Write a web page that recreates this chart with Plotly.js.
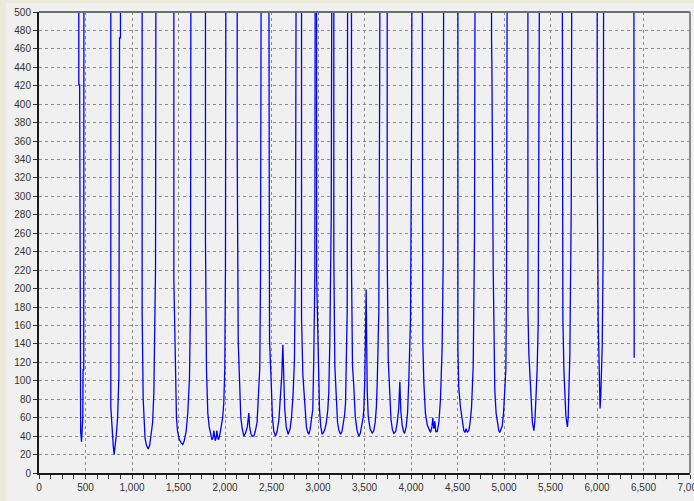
<!DOCTYPE html>
<html>
<head>
<meta charset="utf-8">
<script src="https://cdn.plot.ly/plotly-3.0.1.min.js"></script>
<style>html,body{margin:0;padding:0;background:#f0f0f0;}#chart{width:694px;height:501px;}</style>
</head>
<body>
<div id="chart"></div>
<script>
// Sampled trace (values above 500 are off-scale, drawn clipped at the top)
const sampleX = [
  428,428,437,440,448,457,463,471,474,481,483,
  772,772,787,798,808,816,830,841,846,859,866,876,876,
  1109,1109,1120,1128,1140,1155,1174,1190,1205,1222,1235,1253,1258,
  1450,1450,1468,1478,1490,1510,1528,1545,1562,1582,1600,1618,1629,1634,
  1790,1790,1801,1815,1830,1845,1860,1870,1880,1888,1895,1905,1912,1920,1930,1945,1960,1975,1987,1998,2005,2010,
  2131,2131,2142,2156,2170,2185,2203,2220,2240,2256,2265,2280,2295,2310,2325,2345,2364,2374,2382,2390,
  2471,2471,2479,2497,2510,2525,2543,2560,2580,2597,2610,2622,2630,2642,2658,2679,2700,2715,2732,2747,2758,2766,
  2823,2823,2837,2858,2875,2890,2901,2915,2930,2944,2955,2966,2970,
  2985,2985,3002,3016,3030,3045,3060,3075,3090,3105,3116,3127,3142,3150,
  3170,3170,3181,3196,3210,3225,3242,3258,3272,3286,3296,3307,3314,3319,
  3360,3360,3371,3385,3400,3420,3439,3455,3470,3485,3493,3503,3518,
  3524,3529,3540,3560,3583,3600,3615,3628,3637,3654,3662,3668,
  3744,3744,3755,3769,3785,3800,3815,3835,3852,3868,3880,3890,3905,3920,3931,3948,3963,3977,3995,4006,4012,
  4120,4120,4127,4138,4155,4175,4195,4210,4225,4235,4245,4256,4266,4282,4300,4317,4335,4346,4352,
  4504,4504,4514,4532,4550,4568,4580,4593,4605,4622,4636,4651,4669,4683,4690,
  4866,4866,4870,4884,4891,4901,4915,4930,4944,4955,4966,4981,4995,5009,5020,5027,5035,
  5257,5257,5267,5278,5290,5305,5321,5333,5346,5357,5368,5378,5383,
  5626,5626,5633,5644,5654,5665,5675,5682,5690,5697,5708,5723,5730,
  6002,6002,6013,6020,6027,6033,6040,6045,6056,6067,6072,
  6396,6396,6400
];
const sampleY = [
  600,421,421,65,45,34,44,60,112,112,600,
  600,72,43,30,20,26,40,54,62,105,472,472,600,
  600,175,81,55,38,30,26,30,40,55,87,222,600,
  600,210,101,60,45,36,33,31,35,45,65,103,183,600,
  600,251,112,65,50,42,36,38,46,40,35,38,46,40,36,42,50,60,76,114,224,600,
  600,356,143,87,60,48,40,43,50,65,50,42,40,40,45,55,94,114,212,600,
  600,421,143,98,60,45,40,45,58,85,105,139,100,70,50,42,48,60,85,123,242,600,
  600,168,107,69,50,44,42,47,58,69,127,213,600,
  600,213,127,69,50,42,44,48,55,68,87,141,277,600,
  600,235,116,76,55,46,42,45,52,63,76,121,175,600,
  600,224,116,94,62,46,40,43,50,60,69,101,199,
  120,90,62,48,43,46,55,72,98,175,390,600,
  600,240,123,83,58,47,43,45,55,70,99,68,52,45,43,50,65,102,168,374,600,
  600,235,143,98,65,52,46,44,50,60,48,56,45,45,55,80,137,228,600,
  600,134,92,71,55,46,44,48,44,46,55,71,116,257,600,
  600,472,439,221,121,90,65,52,46,44,47,51,65,92,112,204,600,
  600,177,130,105,75,55,46,58,87,114,163,385,600,
  600,443,168,112,78,62,55,50,60,85,128,289,600,
  600,338,163,112,76,70,82,98,137,248,600,
  600,146,125
];
const xTickVals = [0,500,1000,1500,2000,2500,3000,3500,4000,4500,5000,5500,6000,6500,7000];
const xTickText = ['0','500','1,000','1,500','2,000','2,500','3,000','3,500','4,000','4,500','5,000','5,500','6,000','6,500','7,000'];
const yTickVals = [0,20,40,60,80,100,120,140,160,180,200,220,240,260,280,300,320,340,360,380,400,420,440,460,480,500];

const trace = {
  x: sampleX, y: sampleY, type: 'scatter', mode: 'lines',
  line: {color: 'rgb(0,0,255)', width: 1.3},
  hoverinfo: 'skip'
};

const W = 694, H = 501, L = 39, R = 4, T = 12, B = 28;
const pw = W - L - R, ph = H - T - B;

const layout = {
  width: W, height: H,
  margin: {l: L, r: R, t: T, b: B, pad: 0},
  paper_bgcolor: '#f0f0f0', plot_bgcolor: '#f0f0f0',
  showlegend: false,
  font: {family: 'Liberation Sans, Arial, sans-serif', size: 10, color: '#333'},
  xaxis: {
    range: [0, 7000], tickmode: 'array', tickvals: xTickVals, ticktext: xTickText,
    ticks: 'outside', ticklen: 4, tickwidth: 1, tickcolor: '#333',
    minor: {dtick: 125, ticks: 'outside', ticklen: 4, tickcolor: '#333', showgrid: false},
    showgrid: true, gridcolor: '#8c8c8c', gridwidth: 1, griddash: '3px,3px',
    showline: true, linecolor: '#1a1a1a', linewidth: 2, zeroline: false,
    automargin: false, fixedrange: true, ticklabeloverflow: 'allow'
  },
  yaxis: {
    range: [0, 500], tickmode: 'array', tickvals: yTickVals,
    ticks: 'outside', ticklen: 4, tickwidth: 1, tickcolor: '#333',
    showgrid: true, gridcolor: '#8c8c8c', gridwidth: 1, griddash: '3px,3px',
    showline: true, linecolor: '#1a1a1a', linewidth: 2, zeroline: false,
    automargin: false, fixedrange: true, ticklabeloverflow: 'allow'
  },
  shapes: [
    {type: 'line', xref: 'paper', yref: 'paper', x0: 0, x1: 1, y0: 1, y1: 1, line: {color: '#6e6e6e', width: 2}},
    {type: 'line', xref: 'paper', yref: 'paper', x0: 1, x1: 1, y0: 0, y1: 1, line: {color: '#8a8a8a', width: 2}},
    {type: 'rect', xref: 'paper', yref: 'paper', x0: -L / pw, x1: (-L + 6) / pw, y0: -B / ph, y1: 1 + T / ph, line: {width: 0}, fillcolor: '#ece9d8', layer: 'below'},
    {type: 'rect', xref: 'paper', yref: 'paper', x0: -L / pw, x1: 1 + R / pw, y0: 1 + (T - 3) / ph, y1: 1 + T / ph, line: {width: 0}, fillcolor: '#ece9d8', layer: 'below'}
  ]
};

Plotly.newPlot('chart', [trace], layout, {staticPlot: true, displayModeBar: false});
</script>
</body>
</html>
